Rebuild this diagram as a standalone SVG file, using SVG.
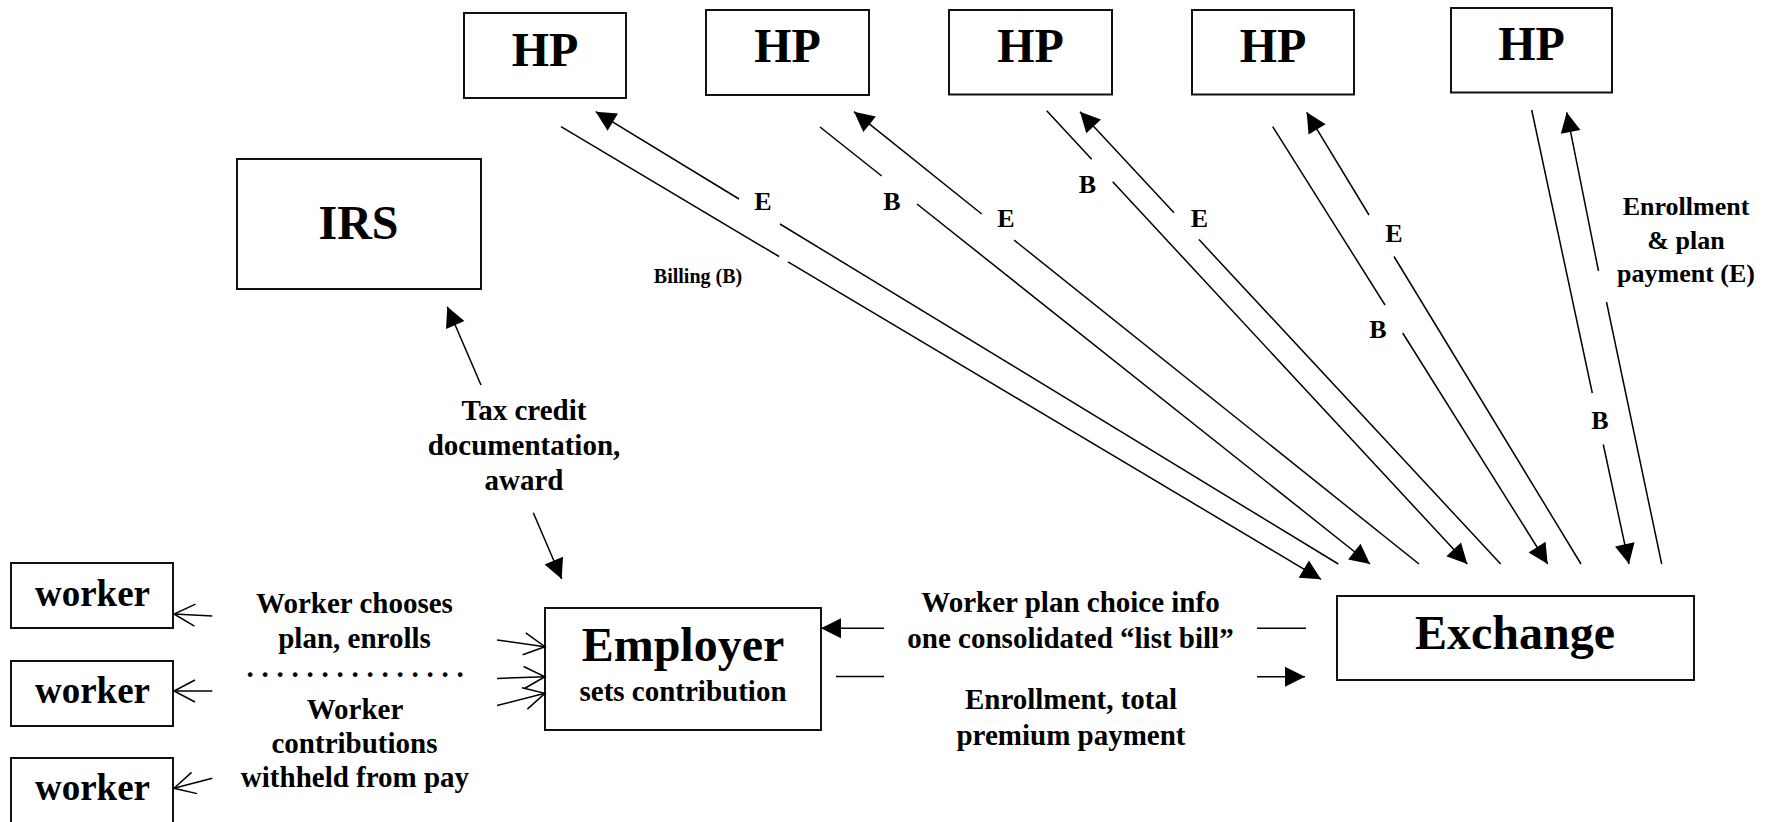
<svg xmlns="http://www.w3.org/2000/svg" width="1775" height="822" viewBox="0 0 1775 822">
  <style>
    .box { fill: #fff; stroke: #111; stroke-width: 2; }
    .ln { fill: none; stroke: #000; stroke-width: 1.5; }
    .arr { marker-end: url(#solid); }
    .open { marker-end: url(#open); }
    text { font-family: "Liberation Serif", "Times New Roman", serif; font-weight: bold; fill: #000; text-anchor: middle; }
    .big { font-size: 48px; }
    .wk { font-size: 37px; }
    .lbl { font-size: 29px; }
    .tag { font-size: 26px; }
    .small { font-size: 20px; }
  </style>
  <defs>
    <marker id="solid" markerUnits="userSpaceOnUse" markerWidth="20" markerHeight="20" refX="20" refY="10" orient="auto" overflow="visible">
      <path d="M0,0 L20,10 L0,20 Z" fill="#000"/>
    </marker>
    <marker id="open" markerUnits="userSpaceOnUse" markerWidth="22" markerHeight="22" refX="21" refY="11" orient="auto" overflow="visible">
      <path d="M0,0 L21,11 L0,22" fill="none" stroke="#000" stroke-width="1.5"/>
    </marker>
  </defs>

  <rect width="1775" height="822" fill="#fff"/>

  <!-- health plans -->
  <g id="hp1"><rect class="box" x="464" y="13" width="162" height="85"/><text class="big" x="545" y="66">HP</text></g>
  <g id="hp2"><rect class="box" x="706" y="10" width="163" height="85"/><text class="big" x="787.5" y="62">HP</text></g>
  <g id="hp3"><rect class="box" x="949" y="10" width="163" height="84.5"/><text class="big" x="1030.5" y="62">HP</text></g>
  <g id="hp4"><rect class="box" x="1192" y="10" width="162" height="84.5"/><text class="big" x="1273" y="62">HP</text></g>
  <g id="hp5"><rect class="box" x="1451" y="8" width="161" height="84.5"/><text class="big" x="1531.5" y="60">HP</text></g>

  <g id="irs"><rect class="box" x="237" y="159" width="244" height="130"/><text class="big" x="358.5" y="239">IRS</text></g>

  <g id="exchange"><rect class="box" x="1337" y="596" width="357" height="84"/><text class="big" x="1515" y="649">Exchange</text></g>

  <g id="employer">
    <rect class="box" x="545" y="608" width="276" height="122"/>
    <text class="big" x="683" y="661">Employer</text>
    <text class="lbl" x="683" y="701">sets contribution</text>
  </g>

  <g id="worker1"><rect class="box" x="11" y="563" width="162" height="65"/><text class="wk" x="92.5" y="605.5">worker</text></g>
  <g id="worker2"><rect class="box" x="11" y="661" width="162" height="65"/><text class="wk" x="92.5" y="702.5">worker</text></g>
  <g id="worker3"><rect class="box" x="11" y="758" width="162" height="66"/><text class="wk" x="92.5" y="800">worker</text></g>

  <!-- connectors -->
  <g id="connectors">
    <!-- HP1 -->
    <line class="ln" x1="1338.3" y1="564" x2="780" y2="224"/>
    <line class="ln arr" x1="739" y1="199" x2="595.7" y2="111.7"/>
    <line class="ln" x1="561" y1="126.7" x2="779" y2="256.5"/>
    <line class="ln arr" x1="788" y1="261.9" x2="1321" y2="579.3"/>
    <!-- HP2 -->
    <line class="ln" x1="820" y1="127" x2="881.7" y2="176"/>
    <line class="ln arr" x1="917" y1="204" x2="1370" y2="564"/>
    <line class="ln" x1="1419" y1="564" x2="1014" y2="240"/>
    <line class="ln arr" x1="981.7" y1="214" x2="854" y2="111.7"/>
    <!-- HP3 -->
    <line class="ln" x1="1046.7" y1="110.7" x2="1091.7" y2="159.2"/>
    <line class="ln arr" x1="1112.7" y1="181.8" x2="1467.3" y2="564"/>
    <line class="ln" x1="1500.7" y1="564" x2="1199" y2="239.6"/>
    <line class="ln arr" x1="1174" y1="212.7" x2="1080" y2="111.7"/>
    <!-- HP4 -->
    <line class="ln" x1="1272.7" y1="126.7" x2="1385" y2="305"/>
    <line class="ln arr" x1="1402.7" y1="333" x2="1547.7" y2="564"/>
    <line class="ln" x1="1581" y1="564" x2="1394" y2="256.5"/>
    <line class="ln arr" x1="1369" y1="215" x2="1306.7" y2="112.3"/>
    <!-- HP5 -->
    <line class="ln" x1="1531.7" y1="110" x2="1592.3" y2="393"/>
    <line class="ln arr" x1="1603.3" y1="444.5" x2="1629" y2="564"/>
    <line class="ln" x1="1661.7" y1="564" x2="1606.5" y2="302"/>
    <line class="ln arr" x1="1598.5" y1="271" x2="1566.7" y2="112.3"/>

    <!-- IRS / employer -->
    <line class="ln arr" x1="481" y1="385" x2="447.3" y2="306.7"/>
    <line class="ln arr" x1="533.3" y1="512.7" x2="561.7" y2="579"/>

    <!-- employer / exchange -->
    <line class="ln arr" x1="884" y1="628.3" x2="821" y2="628.3"/>
    <line class="ln" x1="1257" y1="628.3" x2="1306" y2="628.3"/>
    <line class="ln" x1="836" y1="676.5" x2="884" y2="676.5"/>
    <line class="ln arr" x1="1257" y1="676.7" x2="1305" y2="676.7"/>

    <!-- employer / workers -->
    <line class="ln open" x1="212.3" y1="616" x2="174" y2="614"/>
    <line class="ln open" x1="212.3" y1="691" x2="174" y2="691"/>
    <line class="ln open" x1="212.3" y1="778.3" x2="174" y2="788.3"/>
    <line class="ln open" x1="497" y1="640" x2="545" y2="646.7"/>
    <line class="ln open" x1="497" y1="678.5" x2="545" y2="676.7"/>
    <line class="ln open" x1="497" y1="705.5" x2="545" y2="693.3"/>
  </g>

  <!-- flow labels -->
  <g id="labels">
    <text class="tag" x="763" y="210">E</text>
    <text class="small" x="698" y="283">Billing (B)</text>
    <text class="tag" x="892" y="210">B</text>
    <text class="tag" x="1006" y="226.5">E</text>
    <text class="tag" x="1087.5" y="193">B</text>
    <text class="tag" x="1199.5" y="226.5">E</text>
    <text class="tag" x="1378" y="338">B</text>
    <text class="tag" x="1394" y="241.5">E</text>
    <text class="tag" x="1600" y="429">B</text>
    <text class="tag" x="1686" y="215">Enrollment</text>
    <text class="tag" x="1686" y="248.5">&amp; plan</text>
    <text class="tag" x="1686" y="282">payment (E)</text>

    <text class="lbl" x="524" y="420">Tax credit</text>
    <text class="lbl" x="524" y="455">documentation,</text>
    <text class="lbl" x="524" y="490">award</text>

    <text class="lbl" x="354.5" y="612.5">Worker chooses</text>
    <text class="lbl" x="354.5" y="648">plan, enrolls</text>
    <text class="lbl" x="246.5" y="676.5" style="text-anchor:start;letter-spacing:7.75px">...............</text>
    <text class="lbl" x="355" y="719">Worker</text>
    <text class="lbl" x="354.5" y="753">contributions</text>
    <text class="lbl" x="355" y="786.5">withheld from pay</text>

    <text class="lbl" x="1070.5" y="612">Worker plan choice info</text>
    <text class="lbl" x="1070.5" y="647.5">one consolidated “list bill”</text>
    <text class="lbl" x="1071" y="709">Enrollment, total</text>
    <text class="lbl" x="1071" y="745">premium payment</text>
  </g>
</svg>
